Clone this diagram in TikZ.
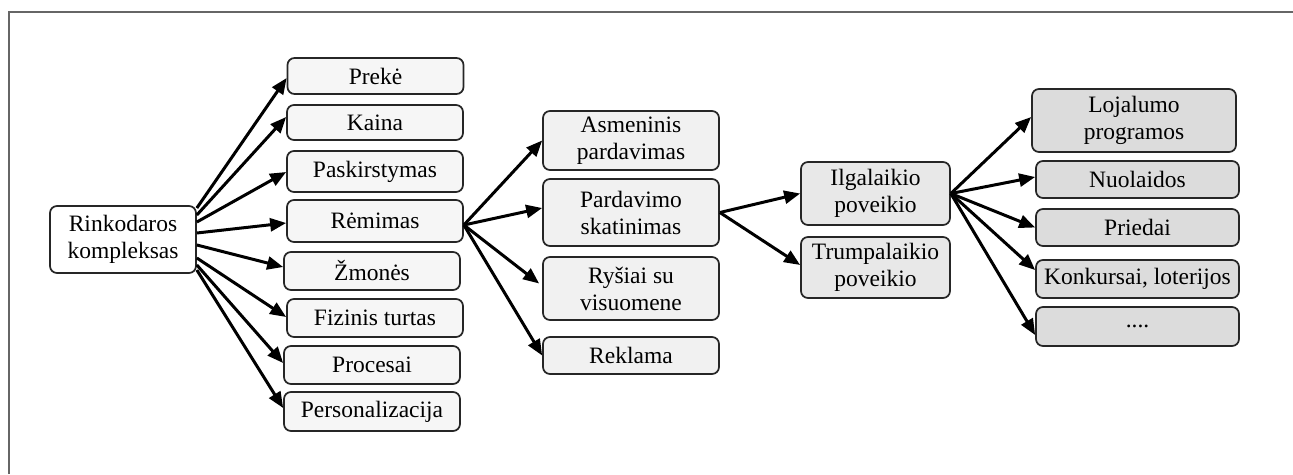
\documentclass[tikz,border=0pt]{standalone}
\usepackage{fontspec}
\setmainfont{Liberation Serif}
\usetikzlibrary{arrows.meta}
\definecolor{fillA}{HTML}{F6F6F6}
\definecolor{fillB}{HTML}{F1F1F1}
\definecolor{fillC}{HTML}{E8E8E8}
\definecolor{fillD}{HTML}{DCDCDC}
\definecolor{frameGray}{HTML}{666666}
\tikzset{
  box/.style={draw=black!85, line width=1.7pt, rounded corners=7pt, inner sep=0pt,
    align=center, font=\fontsize{23.5}{27}\selectfont},
  boxA/.style={box, fill=fillA, minimum width=176pt},
  boxB/.style={box, fill=fillB, minimum width=176pt},
  boxC/.style={box, fill=fillC, minimum width=149pt},
  boxD/.style={box, fill=fillD, minimum width=203pt},
  arr/.style={line width=3pt, -{Triangle[length=16pt,width=13pt]}},
}
\begin{document}
\begin{tikzpicture}[x=1pt,y=-1pt]
\useasboundingbox (0,0) rectangle (1293,474);
\draw[frameGray, line width=2pt] (9,474) -- (9,12) -- (1293,12);

\node[box, fill=white, minimum width=146pt, minimum height=67pt] (rk) at (123,239.5) {Rinkodaros\\kompleksas};

\node[boxA, minimum height=36pt] (a1) at (375.5,76) {Prekė};
\node[boxA, minimum height=35pt] (a2) at (375,122.5) {Kaina};
\node[boxA, minimum height=41pt] (a3) at (375,171.5) {Paskirstymas};
\node[boxA, minimum height=42pt] (a4) at (375,221) {Rėmimas};
\node[boxA, minimum height=38pt] (a5) at (372,271) {Žmonės};
\node[boxA, minimum height=38pt] (a6) at (375,318) {Fizinis turtas};
\node[boxA, minimum height=38pt] (a7) at (372,365) {Procesai};
\node[boxA, minimum height=39pt] (a8) at (372,411.5) {Personalizacija};

\node[boxB, minimum height=59pt] (b1) at (631,140.5) {Asmeninis\\pardavimas};
\node[boxB, minimum height=67pt] (b2) at (631,212.5) {Pardavimo\\skatinimas};
\node[boxB, minimum height=63pt] (b3) at (631,288.5) {Ryšiai su\\visuomene};
\node[boxB, minimum height=37pt] (b4) at (631,355.5) {Reklama};

\node[boxC, minimum height=63pt] (c1) at (875.5,193.5) {Ilgalaikio\\poveikio};
\node[boxC, minimum height=61pt] (c2) at (875.5,267.5) {Trumpalaikio\\poveikio};

\node[boxD, minimum width=204pt, minimum height=63pt] (d1) at (1134,120.5) {Lojalumo\\programos};
\node[boxD, minimum height=37pt] (d2) at (1137.5,179.5) {Nuolaidos};
\node[boxD, minimum height=37pt] (d3) at (1137.5,227.5) {Priedai};
\node[boxD, minimum height=38pt] (d4) at (1137.5,279) {Konkursai, loterijos};
\node[boxD, minimum height=39pt] (d5) at (1137.5,326.5) {....};

\draw[arr] ([yshift=31.5pt]rk.east) -- ([yshift=-2pt]a1.west);
\draw[arr] ([yshift=24.5pt]rk.east) -- ([yshift=5.5pt]a2.west);
\draw[arr] ([yshift=17.5pt]rk.east) -- ([yshift=-0.5pt]a3.west);
\draw[arr] ([yshift=6.5pt]rk.east) -- ([yshift=-2pt]a4.west);
\draw[arr] ([yshift=-5.5pt]rk.east) -- ([yshift=4pt]a5.west);
\draw[arr] ([yshift=-18.5pt]rk.east) -- ([yshift=1pt]a6.west);
\draw[arr] ([yshift=-25.5pt]rk.east) -- ([yshift=2pt]a7.west);
\draw[arr] ([yshift=-30.5pt]rk.east) -- ([yshift=3.5pt]a8.west);

\draw[arr] ([yshift=-4pt]a4.east) -- (b1.west);
\draw[arr] ([yshift=-4pt]a4.east) -- ([yshift=4.5pt]b2.west);
\draw[arr] ([yshift=-4pt]a4.east) -- ([xshift=-3pt,yshift=5pt]b3.west);
\draw[arr] ([yshift=-4pt]a4.east) -- (b4.west);

\draw[arr] (b2.east) -- (c1.west);
\draw[arr] (b2.east) -- ([yshift=2.5pt]c2.west);

\draw[arr] (c1.east) -- ([yshift=3.5pt]d1.west);
\draw[arr] (c1.east) -- ([yshift=2.5pt]d2.west);
\draw[arr] (c1.east) -- (d3.west);
\draw[arr] (c1.east) -- ([yshift=9pt]d4.west);
\draw[arr] (c1.east) -- ([yshift=-8.5pt]d5.west);
\end{tikzpicture}
\end{document}
